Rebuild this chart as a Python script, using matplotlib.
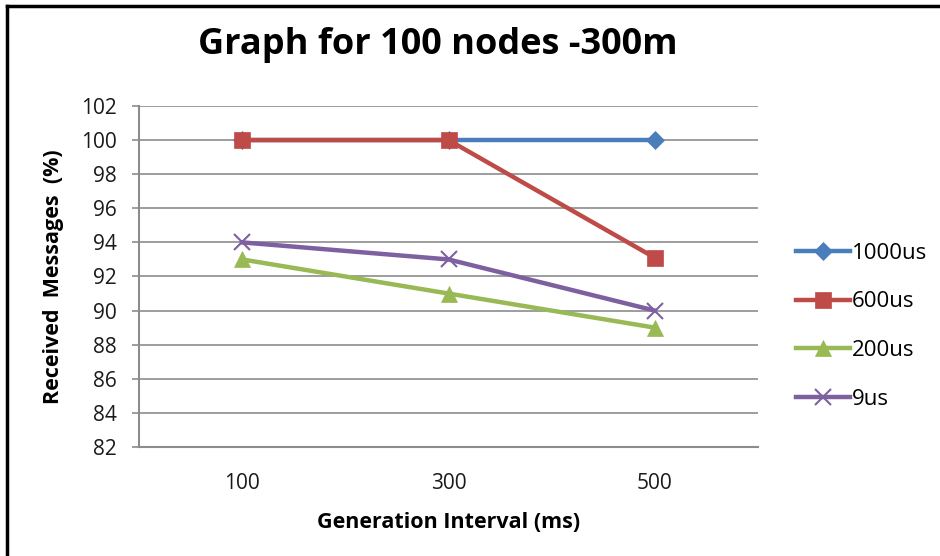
import matplotlib
matplotlib.use("Agg")
import matplotlib.pyplot as plt
from matplotlib.lines import Line2D

categories = ["100", "300", "500"]
series_names = ["1000us", "600us", "200us", "9us"]
s1000 = [100, 100, 100]
s600 = [100, 100, 93.1]
s200 = [93, 91, 89]
s9 = [94, 93, 90]
y_ticks = list(range(82, 103, 2))

colors = ["#4A7EBB", "#BE4B48", "#98B954", "#7D60A0"]
markers = ["D", "s", "^", "x"]
msizes = [9, 12, 11, 12]
FONT = "Open Sans"

fig = plt.figure(figsize=(9.4, 5.56), dpi=100)
ax = fig.add_axes([0.1479, 0.196, 0.6585, 0.6134])

x = list(range(len(categories)))
for vals, name, c, m, ms in zip([s1000, s600, s200, s9], series_names, colors, markers, msizes):
    ax.plot(x, vals, color=c, lw=3.2, marker=m, ms=ms, mew=1.5 if m == "x" else 0.5,
            mec=c, label=name, zorder=3)

ax.set_xlim(-0.5, 2.5)
ax.set_ylim(82, 102)
ax.set_yticks(y_ticks)
ax.set_xticks(x)
ax.set_xticklabels(categories, fontsize=15, family=FONT, color="#1A1A1A")
ax.set_yticklabels([str(v) for v in y_ticks], fontsize=15, family=FONT, color="#1A1A1A")
ax.yaxis.grid(True, color="#8C8C8C", lw=1.2)
ax.set_axisbelow(True)
for side in ["top", "right"]:
    ax.spines[side].set_visible(False)
for side in ["left", "bottom"]:
    ax.spines[side].set_color("#8C8C8C")
    ax.spines[side].set_linewidth(1.5)
ax.tick_params(axis="y", length=5, width=1.2, color="#8C8C8C", pad=11)
ax.tick_params(axis="x", length=0, pad=19)

ax.set_xlabel("Generation Interval (ms)", fontsize=15.5, fontweight="bold", family=FONT, labelpad=13)
ax.set_ylabel("Received  Messages  (%)", fontsize=15.5, fontweight="bold", family=FONT, labelpad=12)

fig.text(0.466, 0.919, "Graph for 100 nodes -300m", ha="center", va="center",
         fontsize=26, fontweight="bold", family=FONT)

handles = [Line2D([0], [0], color=c, lw=3.2, marker=m, ms=ms, mec=c,
                  mew=1.5 if m == "x" else 0.5) for c, m, ms in zip(colors, markers, msizes)]
fig.legend(handles, series_names, loc="center left", bbox_to_anchor=(0.826, 0.413),
           frameon=False, handlelength=2.4, handletextpad=0.1,
           labelspacing=1.25, prop={"family": FONT, "size": 16})

# outer frame edges
fig.add_artist(Line2D([0.0075, 1.0], [0.9885, 0.9885], transform=fig.transFigure, color="black", lw=2.5))
fig.add_artist(Line2D([0.0075, 0.0075], [0.0, 0.9885], transform=fig.transFigure, color="black", lw=2.5))

fig.savefig("out.png", dpi=100)
